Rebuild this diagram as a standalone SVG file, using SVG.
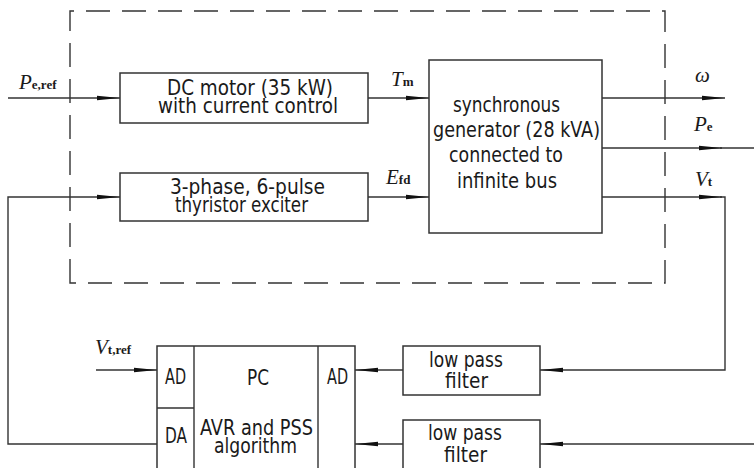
<svg xmlns="http://www.w3.org/2000/svg" width="754" height="468" viewBox="0 0 754 468">
<style>
.bx{fill:#fff;stroke:#333;stroke-width:1.5}
.ln{fill:none;stroke:#333;stroke-width:1.4}
.ar{fill:none;stroke:#333;stroke-width:1.4;marker-end:url(#ah)}
.dash{fill:none;stroke:#333;stroke-width:1.4;stroke-dasharray:24 12}
.t{font-family:"DejaVu Sans Condensed","Liberation Sans Narrow","Liberation Sans",sans-serif;font-size:22px;fill:#1a1a1a}
.v{font-family:"Liberation Serif","Times New Roman",serif;font-style:italic;font-size:21px;fill:#1a1a1a}
.s{font-family:"Liberation Serif","Times New Roman",serif;font-style:normal;font-size:13px;font-weight:bold}
</style>
<defs>
<marker id="ah" markerUnits="userSpaceOnUse" markerWidth="24" markerHeight="8" refX="23" refY="4" orient="auto">
<path d="M0,1.8 L23,4 L0,6.2 Z" fill="#111"/>
</marker>
</defs>
<rect width="754" height="468" fill="#fff"/>
<path class="dash" d="M70,283 V11 H665 V283 Z"/>
<g id="connectors">
<path class="ar" d="M8,98 H120"/>
<path class="ar" d="M157,444 H8 V197 H120"/>
<path class="ar" d="M368,98 H429"/>
<path class="ar" d="M368,197 H429"/>
<path class="ar" d="M602,98 H725"/>
<path class="ar" d="M602,148 H722"/>
<path class="ln" d="M720,148 H754"/>
<path class="ar" d="M602,197 H722"/>
<path class="ar" d="M720,197 H725 V370 H540"/>
<path class="ar" d="M754,444 H540"/>
<path class="ar" d="M403,370 H355"/>
<path class="ar" d="M403,444 H355"/>
<path class="ar" d="M96,370 H157"/>
</g>
<g id="labels">
<text class="v" x="19" y="89">P<tspan class="s">e,ref</tspan></text>
<text class="v" x="391" y="86">T<tspan class="s">m</tspan></text>
<text class="v" x="386" y="184">E<tspan class="s">fd</tspan></text>
<text class="v" x="695" y="82">ω</text>
<text class="v" x="694" y="131">P<tspan class="s">e</tspan></text>
<text class="v" x="695" y="186">V<tspan class="s">t</tspan></text>
<text class="v" x="95" y="354">V<tspan class="s">t,ref</tspan></text>
</g>
<g id="dcmotor">
<rect class="bx" x="120" y="73" width="248" height="50"/>
<text class="t" x="167" y="95" textLength="166" lengthAdjust="spacingAndGlyphs">DC motor (35 kW)</text>
<text class="t" x="158" y="113" textLength="180" lengthAdjust="spacingAndGlyphs">with current control</text>
</g>
<g id="exciter">
<rect class="bx" x="120" y="173" width="248" height="48"/>
<text class="t" x="170" y="194" textLength="155" lengthAdjust="spacingAndGlyphs">3-phase, 6-pulse</text>
<text class="t" x="175" y="212" textLength="133" lengthAdjust="spacingAndGlyphs">thyristor exciter</text>
</g>
<g id="generator">
<rect class="bx" x="429" y="60" width="173" height="173"/>
<text class="t" x="453" y="112" textLength="107" lengthAdjust="spacingAndGlyphs">synchronous</text>
<text class="t" x="433" y="137" textLength="167" lengthAdjust="spacingAndGlyphs">generator (28 kVA)</text>
<text class="t" x="449" y="162" textLength="114" lengthAdjust="spacingAndGlyphs">connected to</text>
<text class="t" x="457" y="188" textLength="100" lengthAdjust="spacingAndGlyphs">infinite bus</text>
</g>
<g id="lpf1">
<rect class="bx" x="403" y="346" width="137" height="49"/>
<text class="t" x="429" y="367" textLength="74" lengthAdjust="spacingAndGlyphs">low pass</text>
<text class="t" x="445" y="388" textLength="43" lengthAdjust="spacingAndGlyphs">filter</text>
</g>
<g id="lpf2">
<rect class="bx" x="403" y="420" width="137" height="60"/>
<text class="t" x="428" y="440" textLength="74" lengthAdjust="spacingAndGlyphs">low pass</text>
<text class="t" x="444" y="462" textLength="43" lengthAdjust="spacingAndGlyphs">filter</text>
</g>
<g id="pc">
<rect class="bx" x="157" y="346" width="198" height="134"/>
<path class="ln" d="M194,346 V480 M318,346 V480 M157,408 H194"/>
<text class="t" x="165" y="384" textLength="21" lengthAdjust="spacingAndGlyphs">AD</text>
<text class="t" x="247" y="385" textLength="22" lengthAdjust="spacingAndGlyphs">PC</text>
<text class="t" x="327" y="384" textLength="21" lengthAdjust="spacingAndGlyphs">AD</text>
<text class="t" x="165" y="443" textLength="22" lengthAdjust="spacingAndGlyphs">DA</text>
<text class="t" x="200" y="435" textLength="113" lengthAdjust="spacingAndGlyphs">AVR and PSS</text>
<text class="t" x="214" y="453" textLength="83" lengthAdjust="spacingAndGlyphs">algorithm</text>
</g>
</svg>
